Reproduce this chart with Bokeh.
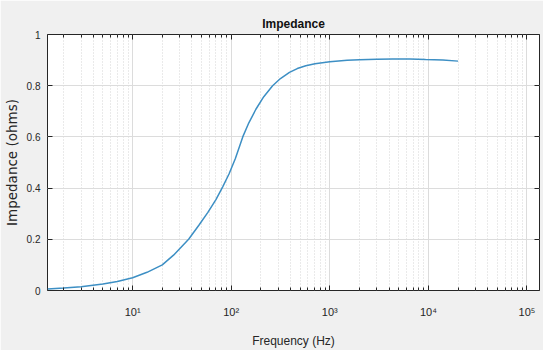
from bokeh.plotting import figure
from bokeh.models import LogAxis, LinearAxis, Range1d, FixedTicker, LogTicker, Title, Grid
from bokeh.embed import file_html
from bokeh.resources import INLINE

# Frequency (Hz) and impedance (ohms)
freq_hz = [1.37, 2, 3, 5, 7, 10, 14, 20, 26, 37, 47, 58, 70, 82, 95, 110, 131,
           151, 178, 214, 263, 316, 390, 468, 571, 708, 1000, 1500, 2000, 3000,
           4340, 6500, 9370, 14000, 20000]
impedance = [0.006, 0.010, 0.015, 0.025, 0.035, 0.050, 0.071, 0.100, 0.138, 0.200,
             0.255, 0.305, 0.355, 0.405, 0.455, 0.515, 0.600, 0.655, 0.708, 0.757,
             0.800, 0.828, 0.852, 0.867, 0.878, 0.886, 0.894, 0.899, 0.901, 0.903,
             0.904, 0.904, 0.902, 0.900, 0.896]
y_ticks = [0, 0.2, 0.4, 0.6, 0.8, 1]
y_tick_labels = ["0", "0.2", "0.4", "0.6", "0.8", "1"]
x_decades = [10, 100, 1000, 10000, 100000]
x_tick_labels = ["10\u00b9", "10\u00b2", "10\u00b3", "10\u2074", "10\u2075"]

AX = "#262626"
FONT = "Liberation Sans"

p = figure(width=543, height=350, x_axis_type="log",
           x_range=Range1d(1.37, 1.34e5), y_range=Range1d(0, 1),
           output_backend="svg", toolbar_location=None,
           x_axis_location=None, y_axis_location=None,
           min_border_left=47, min_border_right=4, min_border_top=34, min_border_bottom=60)
p.background_fill_color = "white"
p.border_fill_color = "#f0f0f0"
p.outline_line_color = AX
p.outline_line_width = 1

p.title = Title(text="Impedance", align="center", text_font=FONT, text_font_size="12px",
                text_font_style="bold", text_color="#111111", offset=0, standoff=8)

xticker = LogTicker(num_minor_ticks=10)
yticker = FixedTicker(ticks=y_ticks)


def style_axis(ax, labels=True):
    ax.axis_line_color = None
    ax.major_tick_in = 5
    ax.major_tick_out = 0
    ax.minor_tick_in = 3
    ax.minor_tick_out = 0
    ax.major_tick_line_color = AX
    ax.minor_tick_line_color = AX
    ax.major_label_text_font = FONT
    ax.major_label_text_font_size = "10px"
    ax.major_label_text_color = AX
    ax.axis_label_text_font = FONT
    ax.axis_label_text_font_size = "12px"
    ax.axis_label_text_font_style = "normal"
    ax.axis_label_text_color = AX
    if not labels:
        ax.major_label_text_font_size = "1px"
        ax.major_label_text_alpha = 0
        ax.major_label_standoff = 0


xb = LogAxis(ticker=xticker, axis_label="Frequency (Hz)")
style_axis(xb)
xb.major_label_overrides = {v: s for v, s in zip(x_decades, x_tick_labels)}
xb.major_label_text_font_size = "11px"
xb.major_label_standoff = 15
xb.axis_label_standoff = 13
p.add_layout(xb, "below")

xt = LogAxis(ticker=xticker)
style_axis(xt, labels=False)
p.add_layout(xt, "above")

yl = LinearAxis(ticker=yticker, axis_label="Impedance (ohms)")
style_axis(yl)
yl.minor_tick_in = 0
yl.major_label_overrides = {v: s for v, s in zip(y_ticks, y_tick_labels)}
yl.major_label_standoff = 7
yl.axis_label_standoff = 4
yl.axis_label_text_font = "DejaVu Sans"
yl.axis_label_text_font_size = "13.5px"
p.add_layout(yl, "left")

yr = LinearAxis(ticker=yticker)
style_axis(yr, labels=False)
yr.minor_tick_in = 0
p.add_layout(yr, "right")

gx = Grid(dimension=0, ticker=xticker)
gx.grid_line_color = "#dcdcdc"
gx.grid_line_width = 1
gx.minor_grid_line_color = "#d4d4d4"
gx.minor_grid_line_dash = "1 2"
p.add_layout(gx)
gy = Grid(dimension=1, ticker=yticker)
gy.grid_line_color = "#dcdcdc"
gy.grid_line_width = 1
p.add_layout(gy)

p.line(freq_hz, impedance, line_color="#3d8fc4", line_width=1.5)

open("out.html", "w").write(file_html(p, INLINE))
